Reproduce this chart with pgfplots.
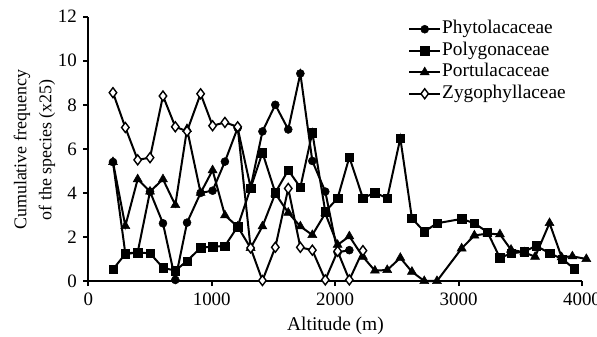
\documentclass[border=0pt]{standalone}
\usepackage{fontspec}
\setmainfont{Liberation Serif}
\usepackage{pgfplots}
\pgfplotsset{compat=1.18}
\begin{document}
\fontsize{19}{22}\selectfont
\begin{tikzpicture}
\path[use as bounding box] (0,0) rectangle (597bp,337bp);
\begin{axis}[
  at={(88.3bp,56bp)}, anchor=south west,
  scale only axis, width=493.7bp, height=264.3bp,
  xmin=0, xmax=4000, ymin=0, ymax=12,
  clip=false,
  axis x line*=bottom, axis y line*=left,
  axis line style={line width=2bp, -},
  xtick={0,1000,2000,3000,4000},
  ytick={0,2,4,6,8,10,12},
  tick align=outside,
  major tick length=5bp,
  every tick/.style={line width=2bp, black},
  minor tick num=0,
  /pgf/number format/assume math mode=true,
  /pgf/number format/set thousands separator={},
  tick label style={font=\fontsize{19}{22}\selectfont},
  xlabel style={font=\fontsize{19.5}{24}\selectfont},
  ylabel style={font=\fontsize{18}{25}\selectfont},
  xlabel={Altitude (m)},
  ylabel={Cumulative frequency\\of the species (x25)},
  ylabel style={align=center, at={(axis description cs:-0.109,0.496)}, anchor=center},
  xlabel style={at={(axis description cs:0.5007,-0.170)}, anchor=center},
  legend style={draw=none, fill=none, at={(axis description cs:0.6476,0.994)}, anchor=north west,
    font=\fontsize{19.4}{22}\selectfont, inner sep=0pt, row sep=0pt, column sep=0pt,
    nodes={inner xsep=1bp, inner ysep=2.25bp, text height=13bp, text depth=4bp}},
  legend cell align=left,
  legend image code/.code={\draw[mark repeat=2,mark phase=2] plot coordinates {(0bp,0bp) (15.5bp,0bp) (31bp,0bp)};},
  every axis plot/.append style={black, line width=2bp},
]
% Phytolacaceae
\addplot[mark=*, mark size=4bp, mark options={solid, fill=black, line width=0.5bp}] coordinates {
(200,5.4) (300,1.25) (400,1.3) (500,4.06) (605,2.62) (705,0.05) (800,2.65) (910,4.0) (1007,4.1) (1107,5.42) (1210,6.95) (1315,4.25) (1411,6.79) (1515,8.0) (1620,6.88) (1718,9.42) (1815,5.45) (1920,4.06) (2020,1.3) (2115,1.4)
};
\addlegendentry{Phytolacaceae}
% Polygonaceae
\addplot[mark=square*, mark size=4.2bp, mark options={solid, fill=black, line width=0.5bp}] coordinates {
(200,0.53) (300,1.23) (400,1.29) (500,1.26) (605,0.6) (705,0.47) (800,0.91) (910,1.51) (1007,1.56) (1107,1.59) (1210,2.47) (1315,4.21) (1411,5.83) (1515,4.01) (1620,5.03) (1718,4.25) (1815,6.74) (1920,3.15) (2020,3.76) (2115,5.62) (2225,3.76) (2322,4.01) (2422,3.76) (2528,6.48) (2622,2.85) (2722,2.24) (2825,2.62) (3025,2.82) (3128,2.62) (3234,2.22) (3335,1.05) (3425,1.25) (3532,1.33) (3628,1.6) (3740,1.25) (3842,1.0) (3937,0.55)
};
\addlegendentry{Polygonaceae}
% Portulacaceae
\addplot[mark=triangle*, mark size=5.2bp, mark options={solid, fill=black, line width=0.5bp}] coordinates {
(200,5.4) (300,2.5) (400,4.62) (500,4.06) (605,4.62) (705,3.45) (800,6.9) (910,4.0) (1007,5.03) (1107,2.98) (1210,2.47) (1315,1.5) (1411,2.48) (1515,3.97) (1620,3.1) (1718,2.48) (1815,2.09) (1920,3.07) (2020,1.64) (2115,2.03) (2225,1.1) (2322,0.47) (2422,0.5) (2528,1.05) (2622,0.42) (2722,0) (2825,0) (3025,1.48) (3128,2.07) (3234,2.15) (3335,2.12) (3425,1.42) (3532,1.3) (3620,1.1) (3737,2.63) (3835,1.08) (3922,1.12) (4035,1.0)
};
\addlegendentry{Portulacaceae}
% Zygophyllaceae
\addplot[mark=diamond*, mark size=5bp, mark options={solid, fill=white, line width=1.4bp}] coordinates {
(200,8.55) (300,6.97) (400,5.5) (500,5.6) (605,8.4) (705,7.0) (800,6.8) (910,8.5) (1007,7.05) (1107,7.2) (1210,7.0) (1315,1.5) (1411,0.02) (1515,1.53) (1620,4.2) (1718,1.53) (1815,1.4) (1920,0.05) (2020,1.35) (2115,0.05) (2225,1.38)
};
\addlegendentry{Zygophyllaceae}
\end{axis}
\end{tikzpicture}
\end{document}
